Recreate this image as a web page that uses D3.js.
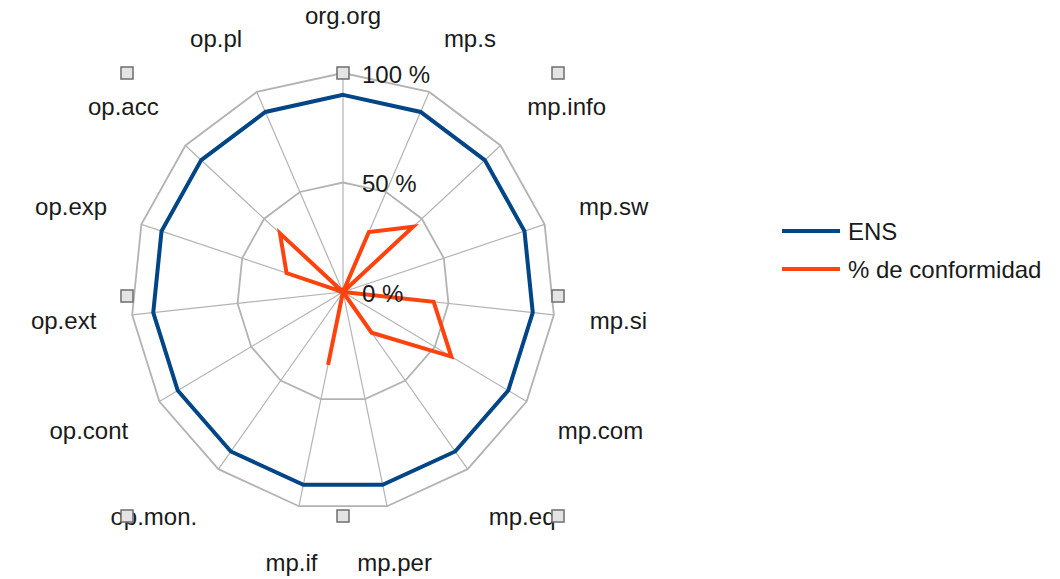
<!DOCTYPE html>
<html>
<head>
<meta charset="utf-8">
<script src="https://cdn.jsdelivr.net/npm/d3@7"></script>
<style>
  html, body { margin: 0; padding: 0; background: #fff; }
  svg { display: block; }
  text { font-family: "Liberation Sans", Arial, sans-serif; fill: #1a1a1a; }
</style>
</head>
<body>
<svg id="chart" width="1060" height="579"></svg>
<script>
// Controles evaluados (ejes del radar)
const categories = ["org.org", "mp.s", "mp.info", "mp.sw", "mp.si", "mp.com", "mp.eq",
  "mp.per", "mp.if", "op.mon.", "op.cont", "op.ext", "op.exp", "op.acc", "op.pl"];

// Nivel exigido por el ENS
const ensValues = [0.90, 0.90, 0.90, 0.90, 0.90, 0.90, 0.90, 0.90,
  0.90, 0.90, 0.90, 0.90, 0.90, 0.90, 0.90];

// Porcentaje de conformidad alcanzado
const conformidadValues = [0.00, 0.30, 0.445, 0.00, 0.43, 0.59, 0.23, 0.00,
  0.34, 0.00, 0.00, 0.00, 0.28, 0.40, 0.00];

const tickValues = [0, 0.5, 1];
const tickLabels = ["0 %", "50 %", "100 %"];

const seriesNames = ["ENS", "% de conformidad"];
const seriesColors = ["#004586", "#ff420e"];

const svg = d3.select("#chart");

const cx = 343, cy = 292, rx = 212, ry = 219;
const fontSize = 24;

// cartesian scales for the unit disc
const xs = d3.scaleLinear().domain([-1, 1]).range([cx - rx, cx + rx]);
const ys = d3.scaleLinear().domain([-1, 1]).range([cy + ry, cy - ry]);
const rScale = d3.scaleLinear().domain([0, 1]).range([0, 1]);
const angle = d3.scaleLinear().domain([0, categories.length]).range([0, 2 * Math.PI]);

const px = (i, v) => xs(rScale(v) * Math.sin(angle(i)));
const py = (i, v) => ys(rScale(v) * Math.cos(angle(i)));

const grid = svg.append("g");

// spokes
grid.selectAll("line.spoke")
  .data(categories)
  .join("line")
  .attr("x1", cx).attr("y1", cy)
  .attr("x2", (d, i) => px(i, 1))
  .attr("y2", (d, i) => py(i, 1))
  .attr("stroke", "#b3b3b3")
  .attr("stroke-width", 1.2);

// rings
const ringLine = d3.line()
  .x(d => d[0]).y(d => d[1])
  .curve(d3.curveLinearClosed);

grid.selectAll("path.ring")
  .data(tickValues.filter(v => v > 0))
  .join("path")
  .attr("d", v => ringLine(categories.map((c, i) => [px(i, v), py(i, v)])))
  .attr("fill", "none")
  .attr("stroke", "#b3b3b3")
  .attr("stroke-width", 1.8);

// series
const seriesLine = d3.line()
  .x((v, i) => px(i, v))
  .y((v, i) => py(i, v))
  .curve(d3.curveLinearClosed);

[ensValues, conformidadValues].forEach((vals, s) => {
  svg.append("path")
    .attr("d", seriesLine(vals))
    .attr("fill", "none")
    .attr("stroke", seriesColors[s])
    .attr("stroke-width", 4)
    .attr("stroke-linejoin", "miter");
});

// axis tick labels
svg.append("g").selectAll("text")
  .data(tickValues)
  .join("text")
  .attr("x", cx + 19)
  .attr("y", v => ys(v) + 1)
  .attr("dominant-baseline", "central")
  .attr("font-size", fontSize)
  .text((v, i) => tickLabels[i]);

// category labels: horizontal anchor at the label radius, vertical offset by half a line
const labelRx = 1.17, labelRy = 1.21;
const halfLine = 0.5 * fontSize;
svg.append("g").selectAll("text")
  .data(categories)
  .join("text")
  .attr("font-size", fontSize)
  .attr("dominant-baseline", "central")
  .attr("x", (d, i) => px(i, labelRx))
  .attr("y", (d, i) => py(i, labelRy) - Math.cos(angle(i)) * halfLine)
  .attr("text-anchor", (d, i) => {
    const s = Math.sin(angle(i));
    return Math.abs(s) < 0.25 ? "middle" : (s > 0 ? "start" : "end");
  })
  .text(d => d);

// frame handles of the selected chart object
const hx = [cx - 216, cx, cx + 215];
const hy = [73, 296, 516];
const handles = [];
hx.forEach((x, a) => hy.forEach((y, b) => { if (!(a === 1 && b === 1)) handles.push([x, y]); }));
svg.append("g").selectAll("rect")
  .data(handles)
  .join("rect")
  .attr("x", d => d[0] - 6).attr("y", d => d[1] - 6)
  .attr("width", 12).attr("height", 12)
  .attr("fill", "#e4e4e4")
  .attr("stroke", "#6e6e6e")
  .attr("stroke-width", 1.5);

// legend
const legend = svg.append("g").attr("transform", "translate(782,231)");
const legendItems = legend.selectAll("g")
  .data(seriesNames)
  .join("g")
  .attr("transform", (d, i) => `translate(0,${i * 38})`);
legendItems.append("line")
  .attr("x1", 0).attr("x2", 58)
  .attr("y1", 0).attr("y2", 0)
  .attr("stroke", (d, i) => seriesColors[i])
  .attr("stroke-width", 4);
legendItems.append("text")
  .attr("x", 66).attr("y", 0)
  .attr("dominant-baseline", "central")
  .attr("font-size", fontSize)
  .text(d => d);
</script>
</body>
</html>
